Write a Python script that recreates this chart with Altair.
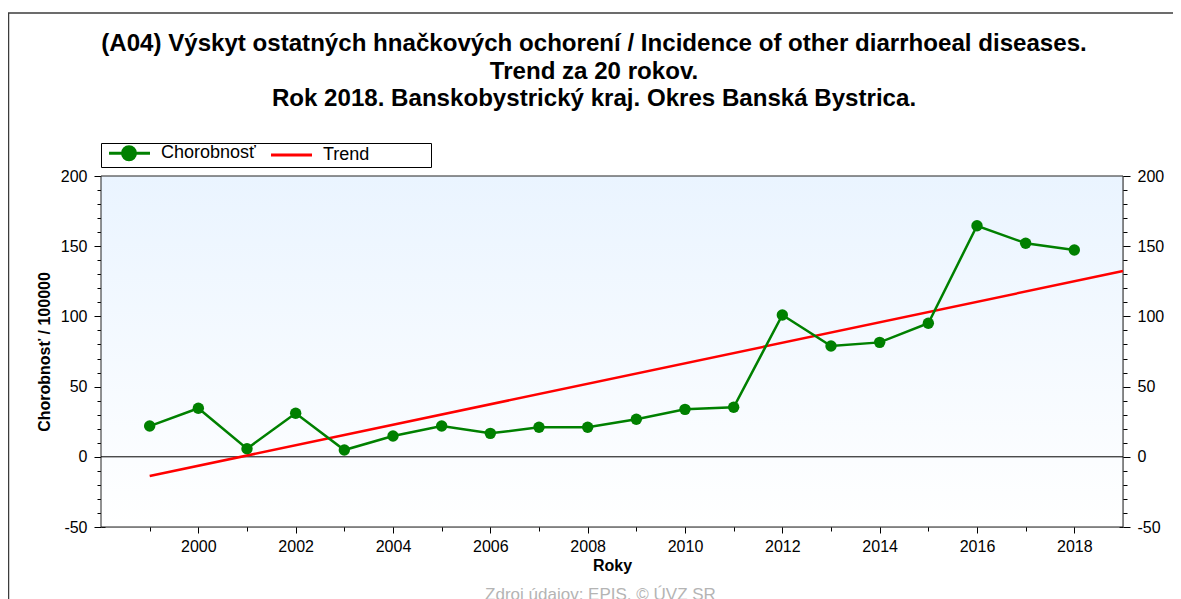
import altair as alt
import pandas as pd

# ---- data ----
years = list(range(1999, 2019))
incidence = [21.9, 34.6, 5.8, 31.0, 4.8, 14.8, 21.9, 16.7, 21.0, 21.0,
             26.7, 33.8, 35.3, 101.0, 78.9, 81.5, 95.1, 164.6, 152.1, 147.3]
trend_years = [1999, 2019]
trend_values = [-13.7, 132.3]
series_names = ["Chorobnosť", "Trend"]
y_tick_values = list(range(-50, 201, 10))
x_tick_values = list(range(1999, 2019))
x_domain = [1998, 2019]
y_domain = [-50, 200]
title_lines = [
    "(A04) Výskyt ostatných hnačkových ochorení / Incidence of other diarrhoeal diseases.",
    "Trend za 20 rokov.",
    "Rok 2018. Banskobystrický kraj. Okres Banská Bystrica.",
]
y_title = "Chorobnosť / 100000"
x_title = "Roky"
source_text = "Zdroj údajov: EPIS, © ÚVZ SR"

# ---- tables ----
obs = pd.DataFrame({"year": years, "value": incidence, "series": series_names[0]})
trend = pd.DataFrame({"year": trend_years, "value": trend_values, "series": series_names[1]})
long = pd.concat([obs, trend], ignore_index=True)

# ---- styles ----
W, H = 1022, 351
FONT = "Liberation Sans"
GREEN = "#008000"
RED = "#FF0000"
series_colors = [GREEN, RED]
legend_shapes = [
    "M-0.33,0H6.5M4.08,0A1.08,1.08,0,1,1,1.92,0A1.08,1.08,0,1,1,4.08,0Z",
    "M-0.33,0H6.5",
]


def xenc(axis):
    return alt.X("year:Q", scale=alt.Scale(domain=x_domain, nice=False, zero=False), axis=axis)


def yenc(axis):
    return alt.Y("value:Q", scale=alt.Scale(domain=y_domain, nice=False, zero=False), axis=axis)


common_axis = dict(domain=False, grid=False, tickColor="#000", tickWidth=1,
                   labelFont=FONT, labelColor="#000", labelFontSize=16)

x_main = alt.Axis(orient="bottom", values=x_tick_values, format="d",
                  labelExpr="datum.value % 2 == 0 ? datum.label : ''",
                  tickSize={"condition": {"test": "datum.value % 2 == 0", "value": 6}, "value": 4},
                  labelPadding=5, labelFlush=False, labelOverlap=False,
                  title=x_title, titleFont=FONT, titleFontSize=16, titleFontWeight="bold",
                  titleColor="#000", titlePadding=3, **common_axis)
x_inner_bottom = alt.Axis(orient="bottom", values=x_tick_values, offset=-4, tickSize=4,
                          labels=False, title=source_text, titleFont=FONT, titleFontSize=17,
                          titleFontWeight="normal", titleColor="#B4B4B4",
                          titleBaseline="top", titleY=63, titleX=499, titleAlign="center",
                          **common_axis)
x_inner_top = alt.Axis(orient="top", values=x_tick_values, offset=-5, tickSize=5,
                       labels=False, title=None, **common_axis)

y_label_expr = "datum.value % 50 == 0 ? '' + datum.value : ''"
y_main_left = alt.Axis(orient="left", values=y_tick_values, labelExpr=y_label_expr,
                       tickSize={"condition": {"test": "datum.value % 50 == 0", "value": 7}, "value": 4},
                       labelPadding=7, labelFlush=False, labelOverlap=False,
                       title=y_title, titleFont=FONT, titleFontSize=16, titleFontWeight="bold",
                       titleColor="#000", titlePadding=8, **common_axis)
y_main_right = alt.Axis(orient="right", values=y_tick_values, labelExpr=y_label_expr,
                        tickSize={"condition": {"test": "datum.value % 50 == 0", "value": 7}, "value": 4},
                        labelPadding=7, labelFlush=False, labelOverlap=False,
                        title=None, **common_axis)
y_inner_left = alt.Axis(orient="left", values=y_tick_values, offset=-4, tickSize=4,
                        labels=False, title=None, **common_axis)
y_inner_right = alt.Axis(orient="right", values=y_tick_values, offset=-4, tickSize=4,
                         labels=False, title=None, **common_axis)

one_row = alt.Data(values=[{"k": 0}])

# outer frame of the whole figure
frame = alt.Chart(one_row).mark_rect(filled=False, stroke="#3C3C3C", strokeWidth=1.5).encode(
    x=alt.value(-92.5), x2=alt.value(1300), y=alt.value(-163), y2=alt.value(1000)
)

# gradient plot background with border
gradient = alt.LinearGradient(
    gradient="linear", x1=0, x2=0, y1=0, y2=1,
    stops=[alt.GradientStop(color="#EAF4FF", offset=0),
           alt.GradientStop(color="#FFFFFF", offset=1)],
)
background = alt.Chart(one_row).mark_rect(fill=gradient, stroke="#222", strokeWidth=1).encode(
    x=alt.value(0), x2=alt.value("width"), y=alt.value(0), y2=alt.value("height")
)

zero_rule = alt.Chart(one_row).mark_rule(color="#000", strokeWidth=1).encode(
    y=alt.Y(datum=0, scale=alt.Scale(domain=y_domain, nice=False, zero=False), axis=y_inner_right)
)

trend_line = alt.Chart(trend).mark_line(strokeWidth=2.5, color=RED).encode(
    x=xenc(None),
    y=yenc(None),
)

obs_line = alt.Chart(obs).mark_line(strokeWidth=2.5, color=GREEN).encode(
    x=xenc(x_main),
    y=yenc(y_main_left),
)

points = alt.Chart(obs).mark_circle(size=130, color=GREEN, opacity=1).encode(
    x=xenc(x_inner_bottom),
    y=yenc(y_main_right),
)

# non-breaking spaces closed by a zero-width space so they are not trimmed
pad_spaces = "\u00a0" * 12 + "\u200b"
leg = alt.Legend(title=None, orient="none", legendX=0, legendY=-33, direction="horizontal",
                 columns=2, columnPadding=8, padding=1, labelLimit=400,
                 labelExpr="datum.value == 'Trend' ? datum.label + '" + pad_spaces + "' : datum.label",
                 strokeColor="#000", fillColor="#FFFFFF", symbolSize=144, symbolStrokeWidth=3,
                 symbolOpacity=1, labelFont=FONT, labelFontSize=18, labelColor="#000",
                 labelOffset=41)

legend_layer = alt.Chart(long).mark_point(size=0).encode(
    x=xenc(x_inner_top),
    y=yenc(y_inner_left),
    shape=alt.Shape("series:N", scale=alt.Scale(domain=series_names, range=legend_shapes), legend=leg),
    fill=alt.Fill("series:N", scale=alt.Scale(domain=series_names, range=series_colors), legend=leg),
    stroke=alt.Stroke("series:N", scale=alt.Scale(domain=series_names, range=series_colors), legend=leg),
)

chart = alt.layer(frame, background, zero_rule, trend_line, obs_line, points, legend_layer).resolve_scale(
    x="independent", y="independent"
).properties(
    width=W, height=H,
    autosize=alt.AutoSizeParams(type="none"),
    padding={"left": 93, "top": 168, "right": 50, "bottom": 80},
    title=alt.TitleParams(text=title_lines, font=FONT, fontSize=24.1, fontWeight="bold",
                          color="#000", anchor="middle", dx=-18, dy=129, offset=30, lineHeight=27.5),
).configure_view(stroke=None).configure(background="#FFFFFF")

chart.save("out.html", embed_options={"renderer": "svg", "actions": False})
